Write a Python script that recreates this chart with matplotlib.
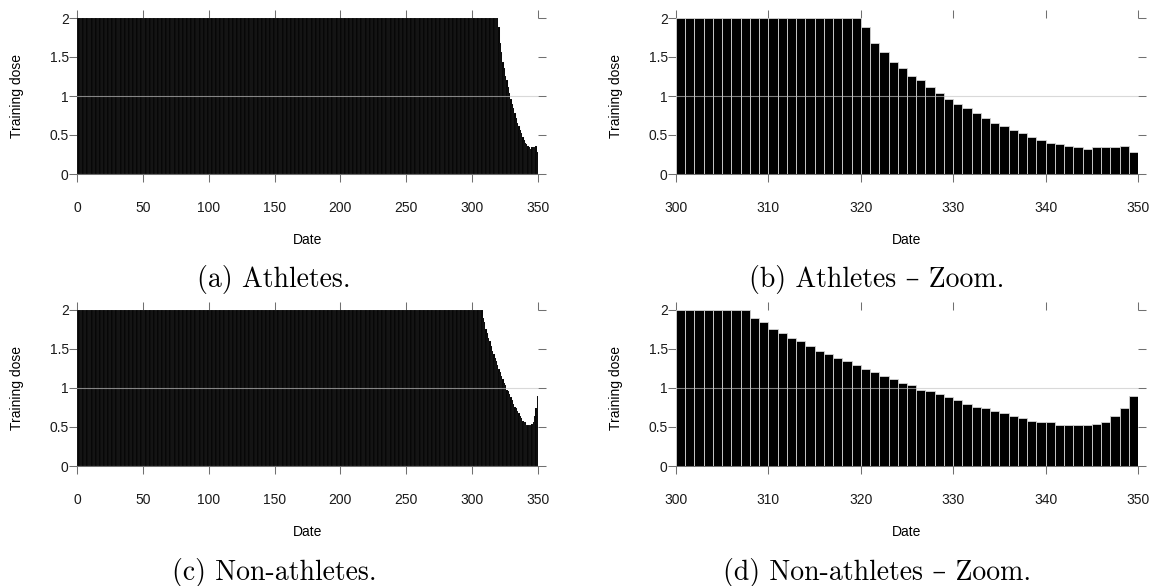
import matplotlib
matplotlib.use("Agg")
import matplotlib.pyplot as plt

plt.rcParams["font.family"] = ["Liberation Sans", "DejaVu Sans"]

# training dose per day
N_DAYS = 350
ZOOM_FROM = 300
ATH_PLATEAU = [2.0] * 320                          # days 0-319 at full dose
ATH_TAIL = [1.88, 1.68, 1.56, 1.44, 1.36, 1.26, 1.20, 1.12, 1.04, 0.96,
            0.90, 0.84, 0.78, 0.72, 0.66, 0.62, 0.56, 0.52, 0.48, 0.44,
            0.40, 0.38, 0.36, 0.34, 0.32, 0.34, 0.34, 0.34, 0.36, 0.28]
NON_PLATEAU = [2.0] * 308                          # days 0-307 at full dose
NON_TAIL = [1.90, 1.84, 1.76, 1.70, 1.64, 1.60, 1.54, 1.48, 1.44, 1.38,
            1.34, 1.30, 1.24, 1.20, 1.16, 1.12, 1.06, 1.04, 0.98, 0.96,
            0.92, 0.88, 0.84, 0.80, 0.76, 0.74, 0.70, 0.68, 0.64, 0.62,
            0.58, 0.56, 0.56, 0.52, 0.52, 0.52, 0.52, 0.54, 0.56, 0.64,
            0.74, 0.90]
ATH_DOSE = ATH_PLATEAU + ATH_TAIL
NON_DOSE = NON_PLATEAU + NON_TAIL

Y_TICKS = [0, 0.5, 1, 1.5, 2]
Y_LABELS = ["0", "0.5", "1", "1.5", "2"]
FULL_TICKS = [0, 50, 100, 150, 200, 250, 300, 350]
ZOOM_TICKS = [300, 310, 320, 330, 340, 350]
CAPTIONS = ["(a) Athletes.", "(b) Athletes – Zoom.",
            "(c) Non-athletes.", "(d) Non-athletes – Zoom."]

W, H = 1151, 586
TICK_C = "#707070"


def rect(l, r, t, b):
    return [l / W, 1 - b / H, (r - l) / W, (b - t) / H]


def panel(fig, pos, dose, start, xticks, lw):
    ax = fig.add_axes(pos)
    days = list(range(start, N_DAYS))
    ax.bar(days, dose[start:], width=1, align="edge", color="black",
           edgecolor="#d4d4d4", linewidth=lw, zorder=2)
    ax.axhline(1, color="#c5c5c5", alpha=0.65, lw=0.8, zorder=3)
    ax.set_xlim(start, N_DAYS); ax.set_ylim(0, 2)
    ax.set_xticks(xticks); ax.set_yticks(Y_TICKS)
    ax.set_yticklabels(Y_LABELS)
    for s in ["top", "right", "left"]:
        ax.spines[s].set_visible(False)
    ax.spines["bottom"].set_color(TICK_C); ax.spines["bottom"].set_linewidth(0.75)
    ax.spines["bottom"].set_zorder(4)
    ax.tick_params(direction="out", length=5.5, width=0.75, color=TICK_C,
                   top=True, right=True, labelsize=10, labelcolor="#1a1a1a")
    ax.tick_params(axis="x", pad=14)
    ax.tick_params(axis="y", pad=0.5)
    ax.set_xlabel("Date", fontsize=10, labelpad=13)
    ax.set_ylabel("Training dose", fontsize=10, labelpad=18)
    return ax


fig = plt.figure(figsize=(W / 100, H / 100), dpi=100)
panel(fig, rect(77, 538, 18, 174), ATH_DOSE, 0, FULL_TICKS, 0.05)
panel(fig, rect(676, 1138, 18, 174), ATH_DOSE, ZOOM_FROM, ZOOM_TICKS, 0.6)
panel(fig, rect(77, 538, 310, 466), NON_DOSE, 0, FULL_TICKS, 0.05)
panel(fig, rect(676, 1138, 310, 466), NON_DOSE, ZOOM_FROM, ZOOM_TICKS, 0.6)

cap_pos = [(274, 287), (877, 287), (274, 580), (877, 580)]
for txt, (cx, cy) in zip(CAPTIONS, cap_pos):
    fig.text(cx / W, 1 - cy / H, txt, ha="center", va="baseline", fontsize=20,
             family=["cmr10", "DejaVu Serif"])

fig.savefig("out.png", dpi=100)
